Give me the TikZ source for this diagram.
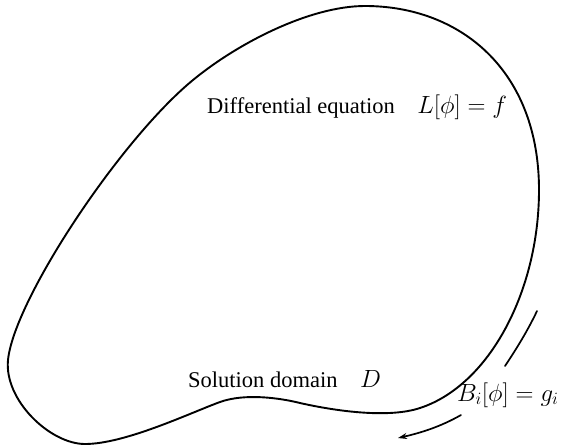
\documentclass[tikz,border=0pt]{standalone}
\usepackage{fontspec}
\setmainfont{Liberation Serif}
\usetikzlibrary{arrows.meta}
\newcommand{\bigmath}[1]{{\fontsize{25}{30}\selectfont$#1$}}
\begin{document}
\begin{tikzpicture}[x=1pt,y=-1pt,
  outline/.style={line width=1.9pt,line join=round},
  bdarrow/.style={line width=1.7pt,line cap=round},
  lbl/.style={inner sep=0pt,anchor=base west,font=\fontsize{22.5}{27}\selectfont}]
\useasboundingbox (0,0) rectangle (562,445);
\draw[outline] (365,6)
  .. controls (460,6) and (539,70) .. (539,190)
  .. controls (539,290) and (490,385) .. (420,408)
  .. controls (390,418) and (340,412) .. (300,403)
  .. controls (280,398) and (245,393) .. (220,402)
  .. controls (190,413) and (125,444) .. (85,444)
  .. controls (50,444) and (4,400) .. (8,360)
  .. controls (14,300) and (120,140) .. (193,80)
  .. controls (238,43) and (310,6) .. cycle;
\node[lbl] (de) at (207,113) {Differential equation\quad \bigmath{L[\phi]=f}};
\node[lbl] (sd) at (188,387) {Solution domain\quad \bigmath{D}};
\node[lbl] (bc) at (457,401) {\bigmath{B_i[\phi]=g_i}};
\coordinate (u1) at (537,311);
\coordinate (u2) at (505,366);
\coordinate (l1) at (461,415);
\coordinate (l2) at (398,438);
\draw[bdarrow] (u1) .. controls (528,330) and (517,348) .. (u2);
\draw[bdarrow,-{Stealth[length=9pt,width=6pt]}] (l1) .. controls (440,427) and (420,433) .. (l2);
\end{tikzpicture}
\end{document}
